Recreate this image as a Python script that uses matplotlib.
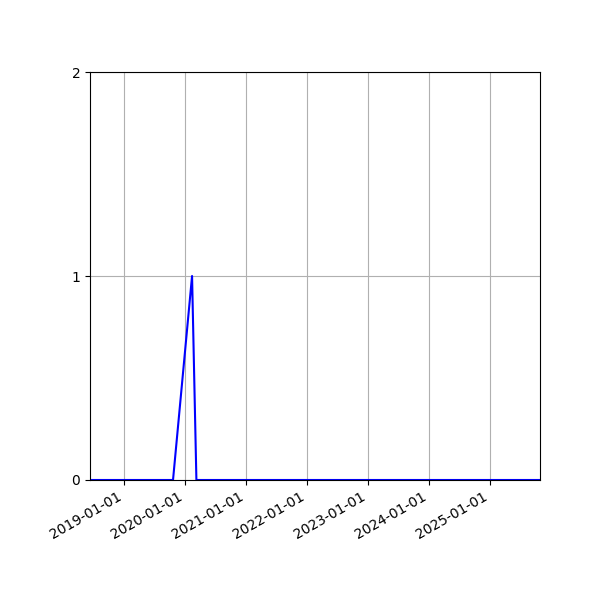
import matplotlib
matplotlib.use("Agg")
import matplotlib.pyplot as plt
import matplotlib.dates as mdates
import datetime as dt

dates = ["2018-06-12", "2019-10-22", "2020-02-13", "2020-03-10", "2025-10-27"]
values = [0, 0, 1, 0, 0]
yticks = [0, 1, 2]

x = [dt.datetime.strptime(d, "%Y-%m-%d") for d in dates]

fig = plt.figure(figsize=(6, 6), dpi=100)
ax = fig.add_subplot(111)
ax.plot(x, values, color="blue", linewidth=1.5)
ax.set_xlim(x[0], x[-1])
ax.set_ylim(0, 2)
ax.set_yticks(yticks)
ax.xaxis.set_major_locator(mdates.YearLocator())
ax.xaxis.set_major_formatter(mdates.DateFormatter("%Y-%m-%d"))
ax.grid(True)
fig.autofmt_xdate()
fig.subplots_adjust(left=0.15, right=0.9, top=0.88, bottom=0.2)
fig.savefig("out.png", dpi=100)
